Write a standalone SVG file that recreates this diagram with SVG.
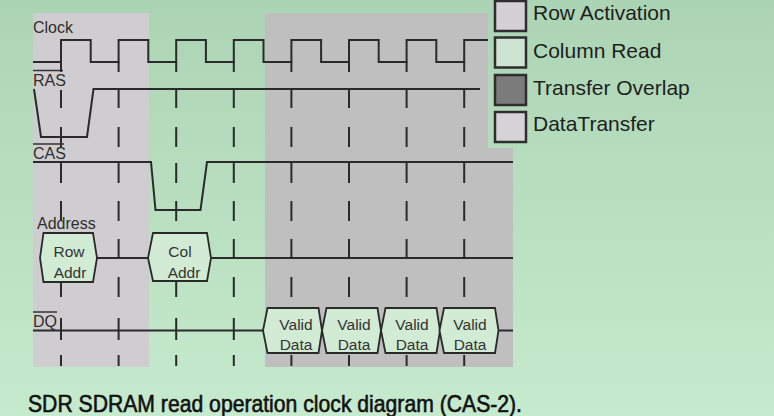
<svg xmlns="http://www.w3.org/2000/svg" xmlns:xlink="http://www.w3.org/1999/xlink" width="774" height="416" viewBox="0 0 774 416">
<defs>
<linearGradient id="bg" x1="0" y1="0" x2="0" y2="416" gradientUnits="userSpaceOnUse">
<stop offset="0" stop-color="#abd4b4"/>
<stop offset="1" stop-color="#c6eacd"/>
</linearGradient>
<path id="tick" d="M0 62V72M0 90V108M0 127V147M0 163V183M0 201V221M0 239V258M0 277V297M0 318V340M0 355V366"/>
<polygon id="vd" points="0,330.5 4.5,308 55.5,308 59,330.5 55.5,353 4.5,353"/>
</defs>
<style>
.sig{fill:none;stroke:#2a2a2a;stroke-width:2;stroke-linejoin:miter}
.tk{fill:none;stroke:#2a2a2a;stroke-width:2}
.box{fill:#d2ebd5;stroke:#2a2a2a;stroke-width:1.8}
.lbl{font-family:"Liberation Sans",Arial,sans-serif;font-size:16px;fill:#2e2e2e}
.bx{font-family:"Liberation Sans",Arial,sans-serif;font-size:15.5px;fill:#333;text-anchor:middle}
.lg{font-family:"Liberation Sans",Arial,sans-serif;font-size:21px;fill:#1e1e1e}
.sq{stroke:#2e2e2e;stroke-width:2.5}
.ovl{stroke:#333;stroke-width:1.5}
</style>
<rect width="774" height="416" fill="url(#bg)"/>
<g id="bands">
<rect x="33" y="13" width="116" height="354" fill="#d0cdd0"/>
<polygon points="265,13 488,13 488,148 513,148 513,367 265,367" fill="#bfbfbf"/>
</g>
<g id="connectors">
<g id="ticks" class="tk">
<use xlink:href="#tick" x="61"/>
<use xlink:href="#tick" x="118.6"/>
<use xlink:href="#tick" x="176.2"/>
<use xlink:href="#tick" x="233.8"/>
<use xlink:href="#tick" x="291.4"/>
<use xlink:href="#tick" x="349"/>
<use xlink:href="#tick" x="406.6"/>
<use xlink:href="#tick" x="464.2"/>
</g>
<path id="clock-line" class="sig" d="M33 62H61V40H90.7V62H118.6V40H148.3V62H176.2V40H205.9V62H233.8V40H263.5V62H291.4V40H321.1V62H349V40H378.7V62H406.6V40H436.3V62H464.2V40H488"/>
<path id="ras-line" class="sig" d="M34 89L41 137H87L93.5 89H480"/>
<path id="cas-line" class="sig" d="M33 162H151L155.5 210H200.5L207 162H513"/>
<path id="addr-line" class="sig" d="M97 258H148M211 258H513"/>
<path id="dq-line" class="sig" d="M33 330.5H263M498 330.5H513"/>
</g>
<g id="clock">
<text class="lbl" x="33" y="33">Clock</text>
</g>
<g id="ras">
<line class="ovl" x1="33" y1="70.5" x2="63" y2="70.5"/>
<text class="lbl" x="33" y="86">RAS</text>
</g>
<g id="cas">
<line class="ovl" x1="33" y1="144" x2="64" y2="144"/>
<text class="lbl" x="33" y="159">CAS</text>
</g>
<g id="address">
<text class="lbl" x="37" y="229">Address</text>
</g>
<g id="row-addr">
<polygon class="box" points="40,258 43.5,233 93,233 97,258 93,282 43.5,282"/>
<text class="bx" x="69" y="257">Row</text>
<text class="bx" x="70" y="278">Addr</text>
</g>
<g id="col-addr">
<polygon class="box" points="148,258 153,233 207,233 211,258 207,281 153,281"/>
<text class="bx" x="180" y="257">Col</text>
<text class="bx" x="184" y="278">Addr</text>
</g>
<g id="dq">
<line class="ovl" x1="33" y1="312" x2="57" y2="312"/>
<text class="lbl" x="33" y="327">DQ</text>
</g>
<g id="valid-data-1">
<use xlink:href="#vd" x="263" class="box"/>
<text class="bx" x="296" y="330">Valid</text>
<text class="bx" x="296" y="350">Data</text>
</g>
<g id="valid-data-2">
<use xlink:href="#vd" x="322" class="box"/>
<text class="bx" x="354" y="330">Valid</text>
<text class="bx" x="354" y="350">Data</text>
</g>
<g id="valid-data-3">
<use xlink:href="#vd" x="381" class="box"/>
<text class="bx" x="412" y="330">Valid</text>
<text class="bx" x="412" y="350">Data</text>
</g>
<g id="valid-data-4">
<use xlink:href="#vd" x="439.5" class="box"/>
<text class="bx" x="470" y="330">Valid</text>
<text class="bx" x="470" y="350">Data</text>
</g>
<g id="legend">
<g id="legend-row-activation">
<rect class="sq" x="495" y="1" width="31" height="30" fill="#d3d0d4"/>
<text class="lg" x="533" y="20">Row Activation</text>
</g>
<g id="legend-column-read">
<rect class="sq" x="495" y="37.5" width="31" height="30" fill="#cfe3d2"/>
<text class="lg" x="533" y="58">Column Read</text>
</g>
<g id="legend-transfer-overlap">
<rect class="sq" x="495" y="75" width="31" height="30" fill="#7b7b7b"/>
<text class="lg" x="533" y="95">Transfer Overlap</text>
</g>
<g id="legend-data-transfer">
<rect class="sq" x="495" y="112" width="31" height="30" fill="#d6d3d7"/>
<text class="lg" x="533" y="131">DataTransfer</text>
</g>
</g>
<text id="caption" x="28" y="411.5" font-family="'Liberation Sans',Arial,sans-serif" font-size="24" fill="#111" stroke="#111" stroke-width="0.6" textLength="494" lengthAdjust="spacingAndGlyphs">SDR SDRAM read operation clock diagram (CAS-2).</text>
</svg>
